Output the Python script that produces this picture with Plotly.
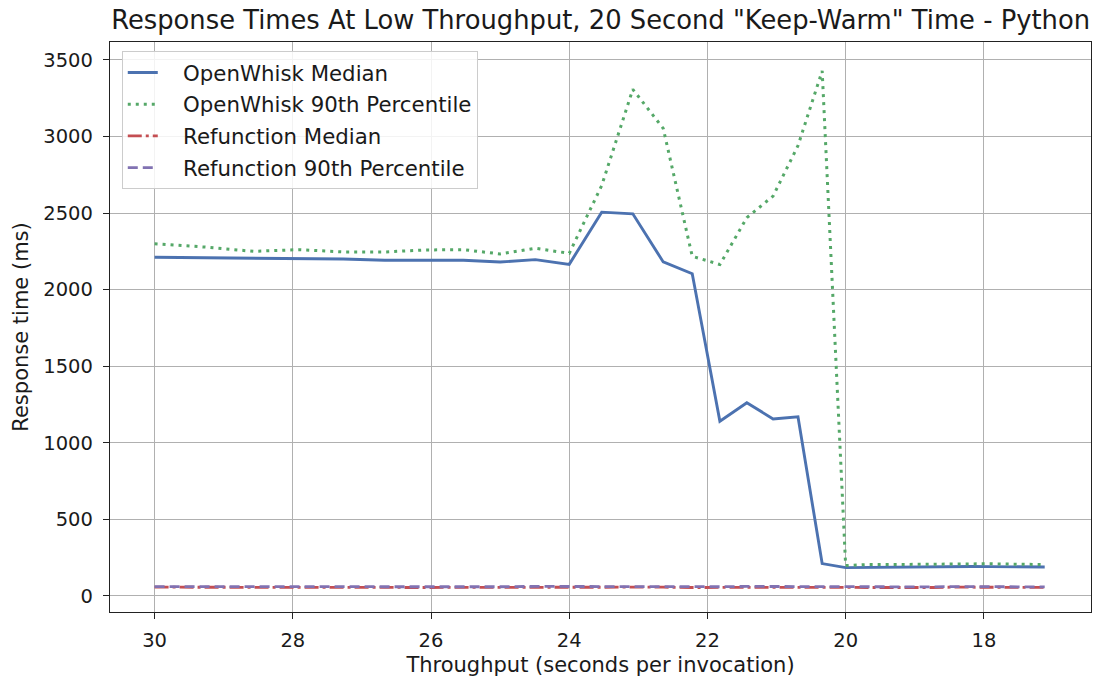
import plotly.graph_objects as go

# Throughput in seconds per invocation (x positions of measurements)
throughput = [30.0, 29.27, 28.57, 27.91, 27.27, 26.67, 26.09, 25.53, 25.0, 24.49, 24.0,
              23.53, 23.08, 22.64, 22.22, 21.82, 21.43, 21.05, 20.69, 20.34, 20.0,
              19.67, 19.35, 19.05, 18.75, 18.46, 18.18, 17.91, 17.65, 17.39, 17.12]

ow_median = [2211, 2209, 2206, 2205, 2200, 2192, 2190, 2192, 2180, 2196, 2165,
             2506, 2495, 2181, 2104, 1141, 1261, 1156, 1170, 211, 185,
             187, 188, 190, 192, 194, 192, 191, 190, 190, 189]

ow_p90 = [2300, 2278, 2250, 2261, 2246, 2246, 2259, 2261, 2233, 2270, 2237,
          2680, 3308, 3053, 2218, 2164, 2470, 2611, 2940, 3428, 198,
          205, 205, 206, 208, 210, 212, 210, 208, 206, 205]

rf_median = [57, 56, 58, 57, 56, 57, 55, 56, 57, 58, 56,
             55, 56, 57, 55, 56, 57, 56, 55, 57, 56,
             55, 54, 56, 55, 57, 56, 55, 54, 55, 56]

rf_p90 = [61, 62, 60, 63, 61, 60, 59, 61, 60, 62, 61,
          59, 60, 61, 59, 60, 62, 61, 60, 59, 58,
          59, 58, 60, 59, 61, 60, 59, 58, 59, 59]

x_ticks = [30, 28, 26, 24, 22, 20, 18]
y_ticks = [0, 500, 1000, 1500, 2000, 2500, 3000, 3500]

title_text = 'Response Times At Low Throughput, 20 Second "Keep-Warm" Time - Python'
FONT = "DejaVu Sans"
TXT = "#1a1a1a"
PAD = "\u00a0\u00a0\u00a0"

fig = go.Figure()
fig.add_trace(go.Scatter(x=throughput, y=ow_median, mode="lines", name=PAD + "OpenWhisk Median",
                         legendgroup="a", line=dict(color="#4C72B0", width=2.9)))
fig.add_trace(go.Scatter(x=throughput, y=ow_p90, mode="lines", name=PAD + "OpenWhisk 90th Percentile",
                         legendgroup="b", line=dict(color="#55A868", width=3, dash="3px,5px")))
fig.add_trace(go.Scatter(x=throughput, y=rf_median, mode="lines", name=PAD + "Refunction Median",
                         legendgroup="c", line=dict(color="#C44E52", width=2.8, dash="14px,4px,3px,4px")))
fig.add_trace(go.Scatter(x=throughput, y=rf_p90, mode="lines", name=PAD + "Refunction 90th Percentile",
                         legendgroup="d", line=dict(color="#8172B2", width=2.8, dash="10px,5px")))

fig.update_layout(
    width=1099, height=682,
    margin=dict(l=110, r=8, t=42, b=70, autoexpand=False),
    paper_bgcolor="white", plot_bgcolor="white",
    font=dict(family=FONT, color=TXT, size=20),
    title=dict(text=title_text, x=0.5465, xanchor="center", yref="container", y=0.971,
               yanchor="middle", automargin=False,
               font=dict(size=25.8, family=FONT, color=TXT)),
    legend=dict(x=0.012, y=0.984, xanchor="left", yanchor="top",
                bgcolor="rgba(255,255,255,0.85)", bordercolor="#cccccc", borderwidth=1,
                font=dict(size=21.3, family=FONT, color=TXT), tracegroupgap=1),
    showlegend=True,
)

fig.update_xaxes(
    range=[30.645, 16.45], tickvals=x_ticks, ticktext=[str(t) for t in x_ticks],
    showgrid=True, gridcolor="#b0b0b0", gridwidth=1.2,
    showline=True, mirror=True, linecolor="#222222", linewidth=1.3,
    ticks="outside", ticklen=6, tickcolor="#222222", zeroline=False, automargin=False,
    tickfont=dict(size=19.5, family=FONT, color=TXT), ticklabelstandoff=4,
    title=dict(text="Throughput (seconds per invocation)", font=dict(size=21, family=FONT, color=TXT),
               standoff=6),
)
fig.update_yaxes(
    range=[-105, 3617], tickvals=y_ticks, ticktext=[str(t) for t in y_ticks],
    showgrid=True, gridcolor="#b0b0b0", gridwidth=1.2,
    showline=True, mirror=True, linecolor="#222222", linewidth=1.3,
    ticks="outside", ticklen=6, tickcolor="#222222", zeroline=False, automargin=False,
    tickfont=dict(size=19.5, family=FONT, color=TXT), ticklabelstandoff=6,
    title=dict(text="Response time (ms)", font=dict(size=21, family=FONT, color=TXT), standoff=8),
)

fig.write_html("out.html", config={"displayModeBar": False},
               post_script="document.body.style.margin='0';")
